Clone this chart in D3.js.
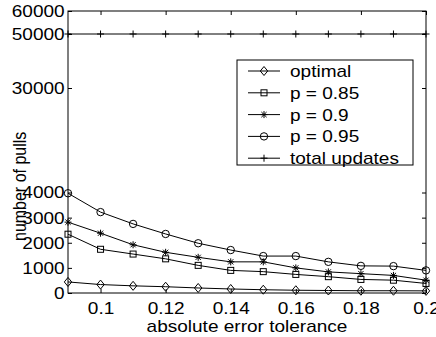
<!DOCTYPE html>
<html>
<head>
<meta charset="utf-8">
<script src="https://cdn.jsdelivr.net/npm/d3@7"></script>
<style>
  html, body { margin: 0; padding: 0; background: #fff; }
  svg text { font-family: "Liberation Sans", Arial, Helvetica, sans-serif; fill: #000; }
</style>
</head>
<body>
<svg id="chart" width="436" height="337"></svg>
<script>
// ---- data ----
const tolerance = [0.09, 0.10, 0.11, 0.12, 0.13, 0.14, 0.15, 0.16, 0.17, 0.18, 0.19, 0.20];
const optimal   = [440, 336, 285, 250, 200, 160, 130, 110, 100, 90, 90, 85];
const p085      = [2340, 1740, 1550, 1360, 1100, 900, 850, 740, 650, 540, 510, 380];
const p09       = [2820, 2380, 1920, 1620, 1420, 1240, 1240, 1000, 840, 770, 700, 510];
const p095      = [3970, 3220, 2750, 2350, 1980, 1710, 1470, 1470, 1240, 1080, 1070, 900];
const totalUpdates = [50000, 50000, 50000, 50000, 50000, 50000, 50000, 50000, 50000, 50000, 50000, 50000];
const seriesNames = ["optimal", "p = 0.85", "p = 0.9", "p = 0.95", "total updates"];
const xTicks = [0.1, 0.12, 0.14, 0.16, 0.18, 0.2];
const yTicks = [0, 1000, 2000, 3000, 4000, 30000, 50000, 60000];
const xLabel = "absolute error tolerance";
const yLabel = "number of pulls";

// ---- layout ----
const svg = d3.select("#chart");
const L = 68, R = 426, T = 11, B = 293;
const x = d3.scaleLinear().domain([0.09, 0.2]).range([L, R]);
// piecewise (broken) y axis as in the original figure
const y = d3.scaleLinear().domain([0, 4000, 30000, 50000, 60000]).range([B, 192.5, 88, 34, T]);

const fs = 17;
const sx = 1.12;   // horizontal stretch of the original figure's text
const tickLen = 4;

// axes
const gx = svg.append("g").attr("transform", `translate(0,${B})`)
  .call(d3.axisBottom(x).tickValues(xTicks).tickSizeInner(-tickLen).tickSizeOuter(0).tickPadding(8)
        .tickFormat(d => String(+d.toFixed(2))));
const gxTop = svg.append("g").attr("transform", `translate(0,${T})`)
  .call(d3.axisTop(x).tickValues(xTicks).tickSizeInner(-tickLen).tickSizeOuter(0).tickFormat(""));
const gy = svg.append("g").attr("transform", `translate(${L},0)`)
  .call(d3.axisLeft(y).tickValues(yTicks).tickSizeInner(-tickLen).tickSizeOuter(0).tickPadding(3)
        .tickFormat(d3.format("d")));
const gyR = svg.append("g").attr("transform", `translate(${R},0)`)
  .call(d3.axisRight(y).tickValues(yTicks).tickSizeInner(-tickLen).tickSizeOuter(0).tickFormat(""));

[gx, gxTop, gy, gyR].forEach(g => {
  g.select(".domain").remove();
  g.selectAll("line").attr("stroke", "#000").attr("stroke-width", 1);
  g.selectAll("text").attr("font-size", fs).attr("font-family", null).attr("transform", `scale(${sx},1)`);
});
gx.selectAll("text").attr("dy", "0.71em").attr("y", 9);

// box
svg.append("rect").attr("x", L).attr("y", T).attr("width", R - L).attr("height", B - T)
  .attr("fill", "none").attr("stroke", "#000").attr("stroke-width", 1);

// markers
function drawMarker(g, type, cx, cy) {
  const s = g.append("g").attr("transform", `translate(${cx},${cy})`);
  const st = { fill: "none", stroke: "#000", "stroke-width": 1 };
  const apply = sel => { Object.entries(st).forEach(([k, v]) => sel.attr(k, v)); return sel; };
  if (type === "diamond") {
    apply(s.append("path").attr("d", "M0,-4.5L3.7,0L0,4.5L-3.7,0Z"));
  } else if (type === "square") {
    apply(s.append("rect").attr("x", -3).attr("y", -3).attr("width", 6).attr("height", 6));
  } else if (type === "star") {
    apply(s.append("path").attr("d", "M-3.5,0H3.5M0,-3.5V3.5M-2.6,-2.6L2.6,2.6M-2.6,2.6L2.6,-2.6"));
  } else if (type === "circle") {
    apply(s.append("circle").attr("r", 3.7));
  } else if (type === "plus") {
    apply(s.append("path").attr("d", "M-3.5,0H3.5M0,-3.5V3.5"));
  }
}

const series = [
  { name: seriesNames[0], values: optimal, marker: "diamond" },
  { name: seriesNames[1], values: p085, marker: "square" },
  { name: seriesNames[2], values: p09, marker: "star" },
  { name: seriesNames[3], values: p095, marker: "circle" },
  { name: seriesNames[4], values: totalUpdates, marker: "plus" }
];

const line = d3.line().x(d => x(d[0])).y(d => y(d[1]));
const plot = svg.append("g");
series.forEach(s => {
  const pts = tolerance.map((t, i) => [t, s.values[i]]);
  plot.append("path").attr("d", line(pts)).attr("fill", "none").attr("stroke", "#000").attr("stroke-width", 1);
  pts.forEach(p => drawMarker(plot, s.marker, x(p[0]), y(p[1])));
});

// legend
const lg = svg.append("g");
const lgX = 237, lgY = 60, lgW = 176, lgH = 105;
lg.append("rect").attr("x", lgX).attr("y", lgY).attr("width", lgW).attr("height", lgH)
  .attr("fill", "#fff").attr("stroke", "#000").attr("stroke-width", 1);
series.forEach((s, i) => {
  const cy = lgY + 11 + i * 21.8;
  lg.append("line").attr("x1", lgX + 11).attr("x2", lgX + 43).attr("y1", cy).attr("y2", cy)
    .attr("stroke", "#000").attr("stroke-width", 1);
  drawMarker(lg, s.marker, lgX + 27, cy);
  lg.append("text").attr("transform", `translate(${lgX + 53},${cy}) scale(${sx},1)`).attr("dy", "0.35em")
    .attr("font-size", fs).text(s.name);
});

// axis labels
svg.append("text").attr("transform", `translate(${(L + R) / 2},331.5) scale(${sx},1)`).attr("text-anchor", "middle")
  .attr("font-size", fs).text(xLabel);
svg.append("text").attr("transform", `translate(26,241) scale(${sx},1) rotate(-90)`).attr("text-anchor", "start")
  .attr("font-size", 16).text(yLabel);
</script>
</body>
</html>
